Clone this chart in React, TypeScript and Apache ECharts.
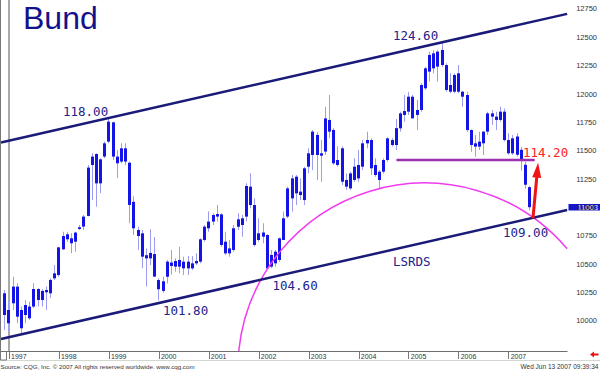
import React, { useEffect, useRef } from "react";
import * as echarts from "echarts";

// Monthly Bund future candles (price x 100), first bar = Dec 1996, last = Jun 2007
const FIRST_MONTH = -1; // month offset of the first bar, counted from Jan 1997
const opens = [
  10244,
  9980, 10303, 10303, 9936, 10141, 10024, 10127, 10282, 10185, 10253, 10244, 10376,
  10405, 10632, 10764, 10685, 10699, 10811, 10832, 10926, 11449, 11472, 11213, 11449,
  11757, 11751, 11390, 11522, 11522, 11395, 11050, 10802, 10773, 10552, 10600, 10590,
  10361, 10265, 10390, 10515, 10479, 10538, 10464, 10523, 10464, 10508, 10523, 10714,
  10817, 10876, 10943, 10940, 10699, 10596, 10626, 10831, 10846, 10920, 11184, 11022,
  10714, 10780, 10758, 10479, 10508, 10538, 10714, 10920, 11081, 11272, 11110, 11066,
  11360, 11669, 11640, 11457, 11493, 11772, 11684, 11419, 11522, 11184, 11169, 11243,
  11257, 11360, 11595, 11595, 11375, 11243, 11316, 11419, 11551, 11551, 11698, 11816,
  11977, 11977, 11816, 11860, 12051, 12198, 12227, 12242, 12389, 12256, 12021, 12021,
  12183, 12021, 11992, 11683, 11537, 11537, 11566, 11669, 11830, 11772, 11845, 11845,
  11478, 11610, 11626, 11509, 11377, 11180,
];
const closes = [
  10053,
  10097, 10156, 10038, 10097, 10053, 10127, 10282, 10185, 10265, 10273, 10362, 10420,
  10649, 10749, 10720, 10729, 10779, 10826, 10920, 11352, 11375, 11213, 11425, 11566,
  11581, 11449, 11449, 11405, 11405, 11023, 10817, 10749, 10567, 10580, 10552, 10391,
  10280, 10350, 10523, 10485, 10529, 10479, 10523, 10464, 10508, 10529, 10720, 10831,
  10876, 10934, 10920, 10670, 10596, 10640, 10817, 10896, 10905, 11190, 11022, 10670,
  10773, 10743, 10464, 10582, 10611, 10729, 10905, 11169, 11257, 11125, 11140, 11346,
  11478, 11463, 11463, 11478, 11786, 11669, 11390, 11375, 11228, 11243, 11301, 11360,
  11375, 11566, 11566, 11346, 11287, 11316, 11419, 11610, 11595, 11700, 11830, 11851,
  11845, 11786, 11860, 12080, 12227, 12345, 12359, 12374, 12256, 12036, 12080, 12168,
  12021, 11977, 11683, 11551, 11566, 11581, 11669, 11830, 11801, 11801, 11772, 11595,
  11595, 11478, 11465, 11415, 11201, 11003,
];
const lows = [
  9921,
  9906, 10097, 9980, 9892, 9980, 10009, 10115, 10127, 10127, 10097, 10200, 10362,
  10391, 10626, 10699, 10597, 10611, 10802, 10802, 10920, 11067, 11008, 11125, 11434,
  11566, 11419, 11258, 11390, 11375, 10861, 10758, 10626, 10464, 10303, 10494, 10391,
  10180, 10250, 10330, 10410, 10435, 10420, 10405, 10405, 10450, 10494, 10508, 10699,
  10787, 10846, 10876, 10655, 10582, 10567, 10611, 10802, 10743, 10876, 10993, 10655,
  10699, 10685, 10460, 10464, 10479, 10523, 10714, 10905, 10964, 11022, 11066, 11022,
  11302, 11331, 11243, 11228, 11463, 11610, 11375, 11360, 11199, 11155, 11155, 11228,
  11228, 11331, 11522, 11287, 11272, 11169, 11301, 11404, 11537, 11507, 11669, 11757,
  11816, 11786, 11683, 11845, 12036, 12110, 12183, 12110, 12242, 12021, 12007, 12007,
  12007, 11889, 11669, 11492, 11448, 11507, 11463, 11639, 11727, 11683, 11757, 11581,
  11463, 11463, 11450, 11327, 11166, 10975,
];
const highs = [
  10273,
  10171, 10391, 10332, 10127, 10185, 10171, 10332, 10288, 10280, 10303, 10376, 10494,
  10655, 10787, 10787, 10773, 10787, 10846, 10934, 11375, 11478, 11478, 11434, 11581,
  11800, 11757, 11507, 11566, 11566, 11405, 11100, 10831, 10802, 10640, 10808, 10740,
  10376, 10391, 10537, 10626, 10552, 10655, 10567, 10573, 10573, 10596, 10729, 10846,
  10964, 10949, 11022, 10949, 10787, 10714, 10846, 10949, 10934, 11213, 11302, 11081,
  10905, 10861, 10765, 10626, 10626, 10735, 10964, 11184, 11287, 11287, 11257, 11360,
  11522, 11684, 11669, 11596, 11889, 11992, 11698, 11537, 11537, 11301, 11316, 11434,
  11507, 11595, 11669, 11610, 11434, 11331, 11434, 11620, 11610, 11780, 11845, 11992,
  12021, 11992, 11948, 12095, 12242, 12374, 12389, 12389, 12460, 12271, 12183, 12183,
  12256, 12030, 12021, 11690, 11639, 11669, 11675, 11845, 11860, 11845, 11889, 11874,
  11654, 11639, 11655, 11533, 11406, 11190,
];

const yearLabels = [1997, 1998, 1999, 2000, 2001, 2002, 2003, 2004, 2005, 2006, 2007];
const priceTicks = [10000, 10250, 10500, 10750, 11000, 11250, 11500, 11750, 12000, 12250, 12500, 12750];
const lastPrice = 11003;

// annotations (month offset, price)
const upperChannel = [[-1.92, 11573], [134.04, 12707]];
const lowerChannel = [[-1.92, 9841], [134.04, 10979]];
const resistanceLevel = 11420;
const resistanceSpan = [93.05, 126.24];
const arrowStart = [125.83, 10905];
const arrowEnd = [126.9, 11330];
const arcCenter = [99.84, 9568];
const arcTopPrice = 11216;

const X_MIN = -1.92;
const X_MAX = 134.04;
const Y_MIN = 9735.5;
const Y_MAX = 12829.3;

const BODY = "#1414e6";
const WICK = "#9c9cf0";
const NAVY = "#1a1a78";
const LABEL = "#22228a";
const MONO = '"DejaVu Sans Mono", monospace';
const SANS = '"Liberation Sans", Arial, sans-serif';

export default function App() {
  const ref = useRef<HTMLDivElement>(null);

  useEffect(() => {
    if (!ref.current) return;
    const chart = echarts.init(ref.current, undefined, { renderer: "svg" });
    const candles = opens.map((o, k) => [k + FIRST_MONTH, o, closes[k], lows[k], highs[k]]);
    const yearTickValues = yearLabels.map((y) => (y - 1997) * 12);

    const option: any = {
      animation: false,
      backgroundColor: "#ffffff",
      grid: { left: 1, right: 32.5, top: 0, bottom: 19 },
      xAxis: {
        type: "value",
        min: X_MIN,
        max: X_MAX,
        axisLine: { show: true, lineStyle: { color: "#6e6e6e", width: 1 } },
        axisTick: {
          show: true,
          customValues: yearTickValues,
          length: 8,
          lineStyle: { color: "#7a7a7a", width: 1 },
        },
        axisLabel: {
          customValues: yearTickValues,
          formatter: (v: number) => String(1997 + Math.round(v / 12)),
          align: "left",
          padding: [0, 0, 0, 2],
          margin: 1.5,
          fontSize: 7,
          color: "#333333",
          fontFamily: SANS,
        },
        splitLine: { show: false },
      },
      yAxis: {
        type: "value",
        position: "right",
        min: Y_MIN,
        max: Y_MAX,
        axisLine: { show: true, lineStyle: { color: "#8c8c8c", width: 1.5 } },
        axisTick: { show: false },
        axisLabel: {
          customValues: priceTicks,
          formatter: (v: number) => String(v),
          fontSize: 7.5,
          color: "#333333",
          margin: 9,
          fontFamily: SANS,
        },
        splitLine: { show: false },
      },
      series: [
        {
          type: "custom",
          data: candles,
          encode: { x: 0, y: [1, 2, 3, 4] },
          renderItem: (_params: any, api: any) => {
            const m = api.value(0);
            const o = api.value(1);
            const c = api.value(2);
            const l = api.value(3);
            const h = api.value(4);
            const pH = api.coord([m, h]);
            const pL = api.coord([m, l]);
            const pO = api.coord([m, o]);
            const pC = api.coord([m, c]);
            const cx = Math.floor(pH[0]);
            const top = Math.min(pO[1], pC[1]);
            const bh = Math.max(Math.abs(pO[1] - pC[1]), 1.5);
            return {
              type: "group",
              children: [
                { type: "rect", shape: { x: cx, y: pH[1], width: 1, height: pL[1] - pH[1] }, style: { fill: WICK } },
                { type: "rect", shape: { x: cx - 1, y: top, width: 3, height: bh }, style: { fill: BODY } },
              ],
            };
          },
          silent: true,
        },
        {
          type: "line",
          data: upperChannel,
          showSymbol: false,
          lineStyle: { color: NAVY, width: 2.5 },
          silent: true,
        },
        {
          type: "line",
          data: lowerChannel,
          showSymbol: false,
          lineStyle: { color: NAVY, width: 2.5 },
          silent: true,
        },
        {
          type: "custom",
          data: [[arcCenter[0], arcCenter[1], arcTopPrice]],
          renderItem: (params: any, api: any) => {
            const c = api.coord([api.value(0), api.value(1)]);
            const t = api.coord([api.value(0), api.value(2)]);
            const r = c[1] - t[1];
            const cs = params.coordSys;
            const yb = cs.y + cs.height;
            const xr = cs.x + cs.width;
            const s = Math.PI - Math.asin(Math.max(-1, Math.min(1, (yb - c[1]) / r)));
            const e = 2 * Math.PI - Math.acos(Math.max(-1, Math.min(1, (xr - c[0]) / r)));
            return {
              type: "arc",
              shape: { cx: c[0], cy: c[1], r, startAngle: s, endAngle: e, clockwise: true },
              style: { stroke: "#f03cf0", fill: null, lineWidth: 1.5 },
            };
          },
          silent: true,
        },
        {
          type: "line",
          data: [
            [resistanceSpan[0], resistanceLevel],
            [resistanceSpan[1], resistanceLevel],
          ],
          showSymbol: false,
          lineStyle: { color: "#9b2fae", width: 2.5 },
          silent: true,
          markLine: {
            silent: true,
            symbol: ["none", "triangle"],
            symbolSize: [9, 15],
            label: { show: false },
            lineStyle: { color: "#f01414", width: 3, type: "solid" },
            emphasis: { disabled: true },
            data: [[{ coord: arrowStart }, { coord: arrowEnd }]],
          },
        },
      ],
    };
    chart.setOption(option);

    const yLast = chart.convertToPixel({ yAxisIndex: 0 }, lastPrice) as number;
    const txt = (text: string, x: number, y: number, fill: string, fontSize: number, fontFamily: string, align = "left") => ({
      type: "text",
      x,
      y,
      silent: true,
      style: { text, fill, fontSize, fontFamily, align, verticalAlign: "middle" },
    });

    chart.setOption({
      graphic: [
        { type: "line", silent: true, shape: { x1: 0.5, y1: 0, x2: 0.5, y2: 360 }, style: { stroke: "#777777", lineWidth: 1 } },
        { type: "line", silent: true, shape: { x1: 0, y1: 360.5, x2: 600, y2: 360.5 }, style: { stroke: "#d0d8d0", lineWidth: 1 } },
        { type: "rect", silent: true, shape: { x: 0.5, y: 351.5, width: 6, height: 8.5 }, style: { stroke: "#777777", fill: "#ffffff", lineWidth: 1 } },
        txt("Bund", 23, 18, "#12128c", 32, SANS),
        txt("118.00", 63, 111, LABEL, 12.5, MONO),
        txt("124.60", 393, 35.5, LABEL, 12.5, MONO),
        txt("101.80", 163, 310.5, LABEL, 12.5, MONO),
        txt("104.60", 272.5, 285, LABEL, 12.5, MONO),
        txt("109.00", 503, 232.5, LABEL, 12.5, MONO),
        txt("LSRDS", 393, 261, LABEL, 12.5, MONO),
        txt("114.20", 523, 152.7, "#ff2020", 12.5, MONO),
        { type: "rect", silent: true, shape: { x: 568.5, y: yLast - 3.2, width: 31.5, height: 6.5 }, style: { fill: "#1414c8" } },
        txt(String(lastPrice), 577.5, yLast, "#ffffff", 7.5, SANS),
        txt("Source: CQG, Inc. \u00a9 2007 All rights reserved worldwide. www.cqg.com", 0.5, 366, "#333333", 6.2, SANS),
        txt("Wed Jun 13 2007 09:39:34", 598.5, 366, "#333333", 6.5, SANS, "right"),
        {
          type: "polygon",
          silent: true,
          shape: {
            points: [[590, 354.5], [594, 351.5], [594, 353.4], [598.5, 353.4], [598.5, 355.6], [594, 355.6], [594, 357.5]],
          },
          style: { fill: "#ee1111" },
        },
      ],
    });

    return () => chart.dispose();
  }, []);

  return (
    <div
      ref={ref}
      style={{ position: "fixed", left: 0, top: 0, width: 600, height: 370, background: "#ffffff" }}
    />
  );
}
